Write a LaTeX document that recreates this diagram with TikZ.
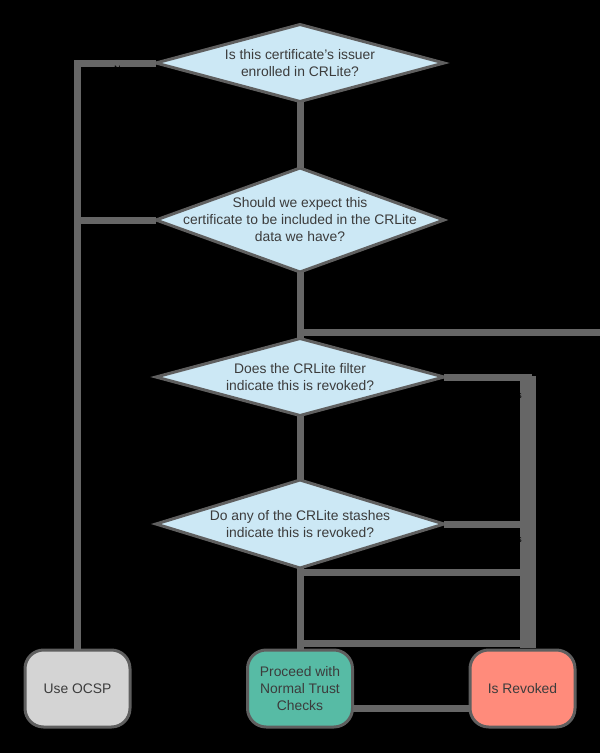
\documentclass[tikz,border=0pt]{standalone}
\usepackage{fontspec}
\setmainfont{Liberation Sans}
\usetikzlibrary{shapes.geometric,calc}
\definecolor{ln}{HTML}{666666}
\definecolor{edge}{HTML}{5F5F5F}
\definecolor{qblue}{HTML}{CCE8F5}
\definecolor{txt}{HTML}{3C3C3C}
\definecolor{ocspc}{HTML}{D4D4D4}
\definecolor{procc}{HTML}{57BBA5}
\definecolor{revc}{HTML}{FF8B7B}
\begin{document}
\begin{tikzpicture}[x=0.75pt,y=-0.75pt,
  conn/.style={draw=ln, line width=5.25pt},
  dia/.style={diamond, draw=edge, line width=2.25pt, fill=qblue, outer sep=0pt, inner sep=0pt, minimum width=216pt},
  qtext/.style={text=txt, font=\fontsize{10.4}{12.75}\selectfont, align=center, inner sep=0pt},
  term/.style={rectangle, rounded corners=14pt, draw=edge, line width=2.25pt, minimum width=78.75pt, minimum height=57.75pt, inner sep=0pt, outer sep=0pt, text=txt, font=\fontsize{10.4}{12.75}\selectfont, align=center},
  lab/.style={text=black, font=\fontsize{7}{8}\selectfont, inner sep=0pt}]
\fill[black] (0,0) rectangle (600,753);
\useasboundingbox (0,0) rectangle (600,753);

% decision nodes
\node[dia, minimum height=57.75pt] (d1) at (300,63) {};
\node[qtext] (t1) at (d1) {Is this certificate's issuer\\enrolled in CRLite?};
\node[dia, minimum height=78pt] (d2) at (300,220) {};
\node[qtext] (t2) at (d2) {Should we expect this\\certificate to be included in the CRLite\\data we have?};
\node[dia, minimum height=57.75pt] (d3) at (300,377) {};
\node[qtext] (t3) at (d3) {Does the CRLite filter\\indicate this is revoked?};
\node[dia, minimum height=66pt] (d4) at (300,524) {};
\node[qtext] (t4) at (d4) {Do any of the CRLite stashes\\indicate this is revoked?};

% terminal nodes
\node[term, fill=ocspc] (ocsp) at (77.5,688.5) {Use OCSP};
\node[term, fill=procc] (proc) at (300,688.5) {Proceed with\\Normal Trust\\Checks};
\node[term, fill=revc] (rev) at (522.5,688.5) {Is Revoked};

% helper coordinates
\coordinate (redge) at (600,332);
\coordinate (rj) at (528,376);
\coordinate (rtop) at (528,648);
\coordinate (h524) at (520,524);
\coordinate (h572) at (520,572);
\coordinate (h643) at (528,643);
\coordinate (h708) at (0,708);

% connectors
\draw[conn] (d1.west) -| (ocsp.north);
\draw[conn] (d2.west) -- (d2.west -| ocsp.north);
\draw[conn] (d1.south) -- (d2.north);
\draw[conn] (d2.south) -- (d3.north);
\draw[conn] (d2.south |- redge) -- (redge);
\draw[conn] (d3.east) -| (rtop);
\draw[conn, line width=12pt] (rj) -- (rtop);
\draw[conn] (d3.south) -- (d4.north);
\draw[conn] (d4.east) -- (h524);
\draw[conn] (d4.south) -- (proc.north);
\draw[conn] (d4.south |- h572) -- (h572);
\draw[conn] (proc.north |- h643) -- (h643);
\draw[conn] (proc.east |- h708) -- (rev.west |- h708);

% labels (black)
\node[lab] (l1) at (120,69) {No};
\node[lab] (l2) at (120,231) {No};
\node[lab, anchor=east] (l3) at (522,395) {Yes};
\node[lab, anchor=east] (l4) at (522,539) {Yes};
\end{tikzpicture}
\end{document}
